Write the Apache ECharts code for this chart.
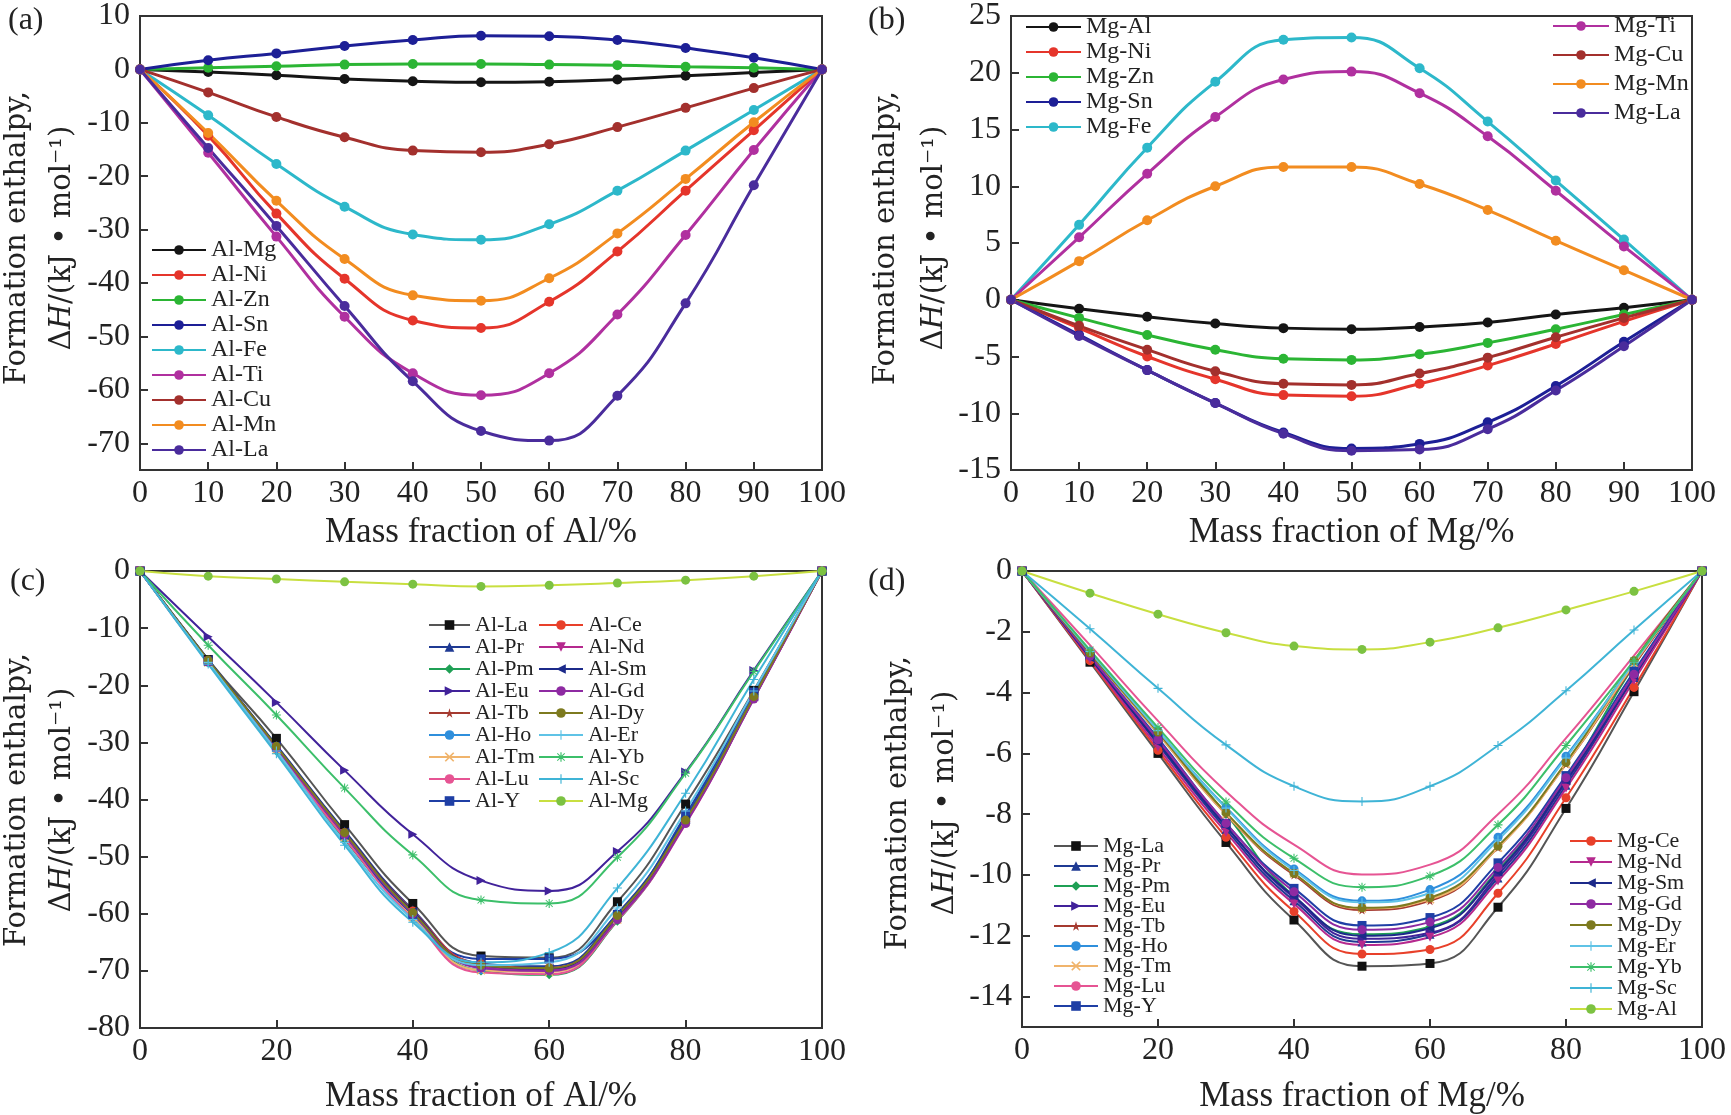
<!DOCTYPE html>
<html>
<head>
<meta charset="utf-8">
<script src="https://cdn.jsdelivr.net/npm/echarts@6/dist/echarts.min.js"></script>
<style>
html, body { margin: 0; padding: 0; background: #fff; }
#main { width: 1731px; height: 1115px; }
</style>
</head>
<body>
<div id="main"></div>
<script>
// mass fraction (%) at which every curve is sampled
var frac = [0, 10, 20, 30, 40, 50, 60, 70, 80, 90, 100];

// (a) Al-X, kJ/mol
var aNames = ['Al-Mg', 'Al-Ni', 'Al-Zn', 'Al-Sn', 'Al-Fe', 'Al-Ti', 'Al-Cu', 'Al-Mn', 'Al-La'];
var aMg = [0, -0.5, -1.1, -1.8, -2.2, -2.4, -2.3, -1.9, -1.2, -0.6, 0];
var aNi = [0, -12.4, -27.0, -39.2, -47.0, -48.4, -43.5, -34.1, -22.7, -11.4, 0];
var aZn = [0, 0.3, 0.6, 0.9, 1.0, 1.0, 0.9, 0.8, 0.5, 0.3, 0];
var aSn = [0, 1.7, 3.0, 4.4, 5.5, 6.3, 6.2, 5.5, 4.0, 2.2, 0];
var aFe = [0, -8.6, -17.7, -25.7, -30.9, -31.9, -29.0, -22.7, -15.2, -7.6, 0];
var aTi = [0, -15.6, -31.3, -46.3, -56.9, -61.0, -56.9, -45.9, -31.0, -15.1, 0];
var aCu = [0, -4.3, -8.9, -12.7, -15.2, -15.5, -14.0, -10.8, -7.2, -3.5, 0];
var aMn = [0, -11.9, -24.6, -35.5, -42.3, -43.3, -39.1, -30.7, -20.5, -9.9, 0];
var aLa = [0, -14.7, -29.3, -44.3, -58.4, -67.7, -69.5, -61.1, -43.8, -21.7, 0];

// (b) Mg-X
var bNames = ['Mg-Al', 'Mg-Ni', 'Mg-Zn', 'Mg-Sn', 'Mg-Fe', 'Mg-Ti', 'Mg-Cu', 'Mg-Mn', 'Mg-La'];
var bAl = [0, -0.8, -1.5, -2.1, -2.5, -2.6, -2.4, -2.0, -1.3, -0.7, 0];
var bNi = [0, -2.5, -5.0, -7.0, -8.4, -8.5, -7.4, -5.8, -3.9, -1.9, 0];
var bZn = [0, -1.6, -3.1, -4.4, -5.2, -5.3, -4.8, -3.8, -2.6, -1.3, 0];
var bSn = [0, -3.1, -6.2, -9.1, -11.7, -13.1, -12.7, -10.8, -7.6, -3.7, 0];
var bFe = [0, 6.6, 13.4, 19.2, 22.9, 23.1, 20.4, 15.7, 10.5, 5.3, 0];
var bTi = [0, 5.5, 11.1, 16.1, 19.4, 20.1, 18.2, 14.4, 9.6, 4.7, 0];
var bCu = [0, -2.3, -4.4, -6.3, -7.4, -7.5, -6.5, -5.1, -3.3, -1.6, 0];
var bMn = [0, 3.4, 7.0, 10.0, 11.7, 11.7, 10.2, 7.9, 5.2, 2.6, 0];
var bLa = [0, -3.2, -6.2, -9.1, -11.8, -13.3, -13.2, -11.4, -8.0, -4.1, 0];

// (c) Al-RE
var cNames = ['Al-La', 'Al-Pr', 'Al-Pm', 'Al-Eu', 'Al-Tb', 'Al-Ho', 'Al-Tm', 'Al-Lu', 'Al-Y',
              'Al-Ce', 'Al-Nd', 'Al-Sm', 'Al-Gd', 'Al-Dy', 'Al-Er', 'Al-Yb', 'Al-Sc', 'Al-Mg'];
var cLa = [0, -15.5, -29.3, -44.4, -58.2, -67.4, -67.7, -57.9, -40.8, -20.9, 0];
var cPr = [0, -15.6, -30.5, -45.5, -59.3, -68.7, -69.2, -60.0, -43.2, -21.8, 0];
var cPm = [0, -16.0, -31.5, -47.0, -60.5, -70.0, -70.7, -61.3, -44.0, -22.0, 0];
var cEu = [0, -11.5, -23.0, -34.9, -46.1, -54.2, -56.0, -49.1, -35.2, -17.4, 0];
var cTb = [0, -15.7, -30.8, -46.0, -60.0, -69.3, -69.9, -60.8, -44.0, -22.3, 0];
var cHo = [0, -16.0, -31.2, -46.5, -60.5, -69.8, -69.8, -60.6, -43.5, -21.8, 0];
var cTm = [0, -16.0, -31.3, -46.6, -60.6, -69.9, -70.2, -61.0, -44.0, -22.0, 0];
var cLu = [0, -16.1, -31.5, -46.8, -60.9, -70.3, -70.6, -61.2, -44.3, -22.3, 0];
var cY  = [0, -15.8, -30.8, -46.2, -60.1, -67.9, -67.9, -60.1, -42.7, -21.2, 0];
var cCe = [0, -15.7, -30.8, -45.8, -59.5, -68.8, -69.5, -60.5, -43.8, -22.2, 0];
var cNd = [0, -15.8, -30.9, -46.0, -59.8, -69.2, -69.8, -60.8, -44.0, -22.3, 0];
var cSm = [0, -15.5, -30.6, -45.7, -59.6, -69.0, -69.6, -60.4, -43.5, -22.0, 0];
var cGd = [0, -15.9, -31.0, -46.2, -60.0, -69.5, -70.0, -61.0, -44.2, -22.4, 0];
var cDy = [0, -15.6, -30.7, -45.8, -59.8, -69.0, -69.5, -60.3, -43.6, -22.0, 0];
var cEr = [0, -16.0, -31.5, -47.5, -61.0, -69.0, -68.5, -59.0, -42.0, -21.0, 0];
var cYb = [0, -13.0, -25.2, -38.0, -49.7, -57.6, -58.2, -50.1, -35.4, -17.6, 0];
var cSc = [0, -16.3, -32.0, -48.0, -61.5, -68.5, -66.8, -55.5, -38.9, -19.0, 0];
var cMg = [0, -0.9, -1.4, -1.9, -2.3, -2.7, -2.5, -2.1, -1.6, -0.9, 0];

// (d) Mg-RE
var dNames = ['Mg-La', 'Mg-Pr', 'Mg-Pm', 'Mg-Eu', 'Mg-Tb', 'Mg-Ho', 'Mg-Tm', 'Mg-Lu', 'Mg-Y',
              'Mg-Ce', 'Mg-Nd', 'Mg-Sm', 'Mg-Gd', 'Mg-Dy', 'Mg-Er', 'Mg-Yb', 'Mg-Sc', 'Mg-Al'];
var dLa = [0, -3.0, -6.0, -8.93, -11.48, -13.0, -12.91, -11.06, -7.81, -3.97, 0];
var dPr = [0, -2.85, -5.7, -8.5, -10.85, -12.2, -11.95, -10.1, -7.05, -3.5, 0];
var dPm = [0, -2.7, -5.3, -8.0, -10.7, -11.95, -11.7, -9.85, -6.85, -3.1, 0];
var dEu = [0, -2.8, -5.6, -8.4, -10.75, -12.1, -11.9, -10.0, -6.95, -3.45, 0];
var dTb = [0, -2.7, -5.35, -8.0, -10.0, -11.15, -10.85, -9.1, -6.35, -3.1, 0];
var dHo = [0, -2.65, -5.25, -7.77, -9.8, -10.85, -10.48, -8.76, -6.09, -3.0, 0];
var dTm = [0, -2.7, -5.35, -8.0, -9.95, -11.1, -10.8, -9.1, -6.35, -3.05, 0];
var dLu = [0, -2.44, -4.93, -7.25, -9.0, -9.98, -9.66, -8.0, -5.5, -2.78, 0];
var dY  = [0, -2.8, -5.5, -8.3, -10.44, -11.66, -11.4, -9.6, -6.73, -3.3, 0];
var dCe = [0, -2.95, -5.9, -8.76, -11.2, -12.6, -12.45, -10.6, -7.46, -3.83, 0];
var dNd = [0, -2.9, -5.8, -8.6, -10.95, -12.3, -12.05, -10.2, -7.15, -3.6, 0];
var dSm = [0, -2.85, -5.65, -8.4, -10.7, -12.0, -11.75, -9.9, -6.9, -3.45, 0];
var dGd = [0, -2.8, -5.55, -8.3, -10.55, -11.8, -11.55, -9.75, -6.8, -3.4, 0];
var dDy = [0, -2.7, -5.3, -7.95, -9.95, -11.08, -10.75, -9.05, -6.3, -2.95, 0];
var dEr = [0, -2.65, -5.25, -7.8, -9.85, -10.9, -10.6, -8.85, -6.15, -3.0, 0];
var dYb = [0, -2.6, -5.15, -7.6, -9.45, -10.4, -10.03, -8.35, -5.74, -2.95, 0];
var dSc = [0, -1.9, -3.86, -5.72, -7.08, -7.58, -7.08, -5.74, -3.94, -1.94, 0];
var dAl = [0, -0.73, -1.42, -2.03, -2.47, -2.58, -2.34, -1.87, -1.28, -0.67, 0];

var aVals = [aMg, aNi, aZn, aSn, aFe, aTi, aCu, aMn, aLa];
var bVals = [bAl, bNi, bZn, bSn, bFe, bTi, bCu, bMn, bLa];
var cVals = [cLa, cPr, cPm, cEu, cTb, cHo, cTm, cLu, cY, cCe, cNd, cSm, cGd, cDy, cEr, cYb, cSc, cMg];
var dVals = [dLa, dPr, dPm, dEu, dTb, dHo, dTm, dLu, dY, dCe, dNd, dSm, dGd, dDy, dEr, dYb, dSc, dAl];

// styles (by alloying element)
var STAR = 'path://M50,0 L61,35 L98,35 L68,57 L79,91 L50,70 L21,91 L32,57 L2,35 L39,35 Z';
var PLUS = 'path://M44,0 H56 V44 H100 V56 H56 V100 H44 V56 H0 V44 H44 Z';
var CROSS = 'path://M12,0 L50,38 L88,0 L100,12 L62,50 L100,88 L88,100 L50,62 L12,100 L0,88 L38,50 L0,12 Z';
var ASTER = 'path://M44,0 H56 V44 H100 V56 H56 V100 H44 V56 H0 V44 H44 Z M15,8 L50,43 L85,8 L92,15 L57,50 L92,85 L85,92 L50,57 L15,92 L8,85 L43,50 L8,15 Z';

var binStyle = {
  Mg: { color: '#151515' }, Al: { color: '#151515' },
  Ni: { color: '#e5352b' }, Zn: { color: '#2bb534' },
  Sn: { color: '#1d1f96' }, Fe: { color: '#2db8ca' },
  Ti: { color: '#b0309f' }, Cu: { color: '#a3302d' },
  Mn: { color: '#f28c20' }, La: { color: '#4a2c9c' }
};
var reStyle = {
  La: { color: '#111', line: '#555', symbol: 'rect' },
  Ce: { color: '#e8402a', symbol: 'circle' },
  Pr: { color: '#1f3a93', symbol: 'triangle' },
  Nd: { color: '#b5298e', symbol: 'triangle', rot: 180 },
  Pm: { color: '#1fa055', symbol: 'diamond' },
  Sm: { color: '#1c2a8a', symbol: 'triangle', rot: 90 },
  Eu: { color: '#41229a', symbol: 'triangle', rot: -90 },
  Gd: { color: '#8e2aa2', symbol: 'circle' },
  Tb: { color: '#a53a30', symbol: STAR },
  Dy: { color: '#7d7a1f', symbol: 'circle' },
  Ho: { color: '#2f8fdc', symbol: 'circle' },
  Er: { color: '#5fc3e6', symbol: PLUS },
  Tm: { color: '#f0b46c', symbol: CROSS },
  Yb: { color: '#3cbf6a', symbol: ASTER },
  Lu: { color: '#e65493', symbol: 'none' },
  Sc: { color: '#3fb4d6', symbol: PLUS },
  Y:  { color: '#1f3fa5', symbol: 'rect' },
  Mg: { color: '#7cc242', line: '#c8df40', symbol: 'circle' },
  Al: { color: '#7cc242', line: '#c8df40', symbol: 'circle' }
};

var SERIF = 'Liberation Serif';
var series = [];

function addSeries(names, vals, idx, styles, suffix, lw, size) {
  names.forEach(function (n, k) {
    var st = styles[n.split('-')[1]];
    series.push({
      name: n + suffix,
      type: 'line',
      xAxisIndex: idx,
      yAxisIndex: idx,
      smooth: 0.5,
      data: frac.map(function (x, i) { return [x, vals[k][i]]; }),
      symbol: st.symbol || 'circle',
      symbolSize: size,
      symbolRotate: st.rot || 0,
      lineStyle: { color: st.line || st.color, width: lw },
      itemStyle: { color: st.color },
      emphasis: { disabled: true }
    });
  });
}
addSeries(aNames, aVals, 0, binStyle, '', 3, 10);
addSeries(bNames, bVals, 1, binStyle, '', 3, 10);
addSeries(cNames, cVals, 2, reStyle, ' ', 2, 9);
addSeries(dNames, dVals, 3, reStyle, ' ', 2, 9);

function xAx(idx, step, title, gap) {
  return {
    type: 'value', gridIndex: idx, min: 0, max: 100, interval: step,
    name: title, nameLocation: 'middle', nameGap: gap,
    nameTextStyle: { fontFamily: SERIF, fontSize: 35, color: '#222' },
    axisLine: { onZero: false, lineStyle: { color: '#333', width: 2 } },
    axisTick: { inside: true, length: 8, lineStyle: { color: '#333', width: 2 } },
    axisLabel: { fontFamily: SERIF, fontSize: 32, color: '#222', margin: 8 },
    splitLine: { show: false }
  };
}
function yAx(idx, min, max, step, fixed) {
  var ax = {
    type: 'value', gridIndex: idx, min: min, max: max,
    axisLine: { onZero: false, lineStyle: { color: '#333', width: 2 } },
    axisTick: { inside: true, length: 8, lineStyle: { color: '#333', width: 2 } },
    axisLabel: {
      fontFamily: SERIF, fontSize: 32, color: '#222', margin: 10,
      formatter: function (v) { return Math.abs(v % step) < 1e-9 ? String(v) : ''; }
    },
    splitLine: { show: false }
  };
  if (fixed) { ax.interval = step; } else { ax.minInterval = step; ax.maxInterval = step; }
  return ax;
}

function legend(names, suffix, left, top, iw, gap, fs) {
  return {
    orient: 'vertical', left: left, top: top, padding: 0,
    itemWidth: iw, itemHeight: 12, itemGap: gap,
    selectedMode: false,
    data: names.map(function (n) { return n + suffix; }),
    formatter: function (n) { return n.trim(); },
    textStyle: { fontFamily: SERIF, fontSize: fs, color: '#222' }
  };
}

function panelLabel(t, x, y) {
  return {
    type: 'text', x: x, y: y,
    style: { text: t, fontFamily: SERIF, fontSize: 32, fill: '#222',
             align: 'left', verticalAlign: 'middle', textAlign: 'left', textVerticalAlign: 'middle' }
  };
}
function yTitle(x1, x2, yc) {
  return [{
    type: 'text', x: x1, y: yc, rotation: Math.PI / 2,
    style: { text: 'Formation enthalpy,', fontFamily: 'DejaVu Serif', fontSize: 29, fill: '#222',
             align: 'center', verticalAlign: 'middle', textAlign: 'center', textVerticalAlign: 'middle' }
  }, {
    type: 'text', x: x2, y: yc, rotation: Math.PI / 2,
    style: {
      text: '{n|Δ}{i|H}{n|/(kJ • mol⁻¹)}',
      rich: {
        n: { fontFamily: 'DejaVu Serif', fontSize: 29, fill: '#222', color: '#222' },
        i: { fontFamily: 'DejaVu Serif', fontStyle: 'italic', fontSize: 29, fill: '#222', color: '#222' }
      },
      align: 'center', verticalAlign: 'middle', textAlign: 'center', textVerticalAlign: 'middle'
    }
  }];
}

var gridBase = { show: true, borderColor: '#333', borderWidth: 2, containLabel: false };

var option = {
  backgroundColor: '#fff',
  animation: false,
  grid: [
    Object.assign({ left: 140, top: 11, width: 682, height: 459 }, gridBase),
    Object.assign({ left: 1011, top: 9, width: 681, height: 461 }, gridBase),
    Object.assign({ left: 140, top: 571, width: 682, height: 459 }, gridBase),
    Object.assign({ left: 1022, top: 571, width: 680, height: 460 }, gridBase)
  ],
  xAxis: [
    xAx(0, 10, 'Mass fraction of Al/%', 45),
    xAx(1, 10, 'Mass fraction of Mg/%', 45),
    xAx(2, 20, 'Mass fraction of Al/%', 51),
    xAx(3, 20, 'Mass fraction of Mg/%', 52)
  ],
  yAxis: [
    yAx(0, -75, 10, 10, false),
    yAx(1, -15, 25, 5, true),
    yAx(2, -80, 0, 10, true),
    yAx(3, -15, 0, 2, false)
  ],
  legend: [
    legend(aNames, '', 151, 238, 54, 1, 24),
    legend(bNames.slice(0, 5), '', 1025, 15, 55, 1, 24),
    legend(bNames.slice(5), '', 1552, 14, 56, 5, 24),
    legend(cNames.slice(0, 9), ' ', 428, 614, 41, 0, 22),
    legend(cNames.slice(9), ' ', 538, 614, 44, 0, 22),
    legend(dNames.slice(0, 9), ' ', 1053, 835, 44, -2, 22),
    legend(dNames.slice(9), ' ', 1569, 830, 42, -1, 22)
  ],
  graphic: [
    panelLabel('(a)', 8, 21),
    panelLabel('(b)', 868, 21),
    panelLabel('(c)', 10, 582),
    panelLabel('(d)', 868, 582)
  ].concat(yTitle(17, 62, 238), yTitle(886, 934, 238), yTitle(17, 62, 800), yTitle(898, 945, 803)),
  series: series
};

var myChart = echarts.init(document.getElementById('main'));
myChart.setOption(option);
</script>
</body>
</html>
